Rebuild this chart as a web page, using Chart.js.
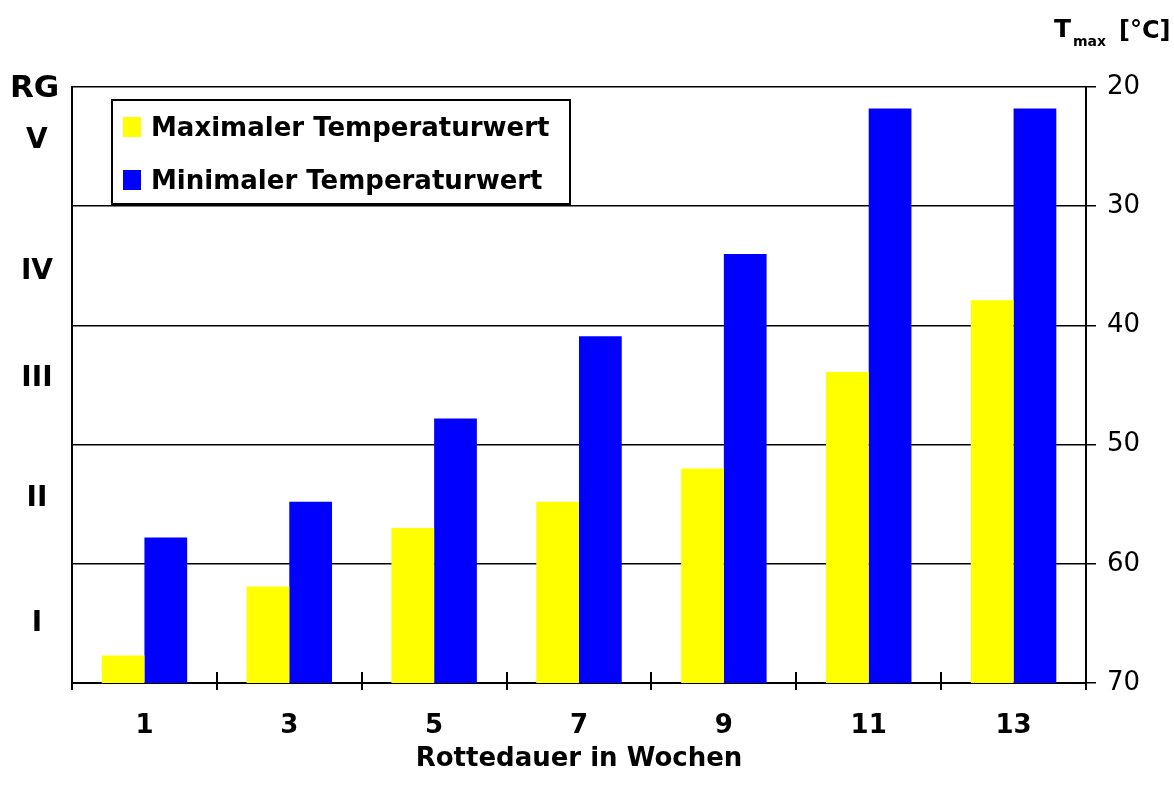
<!DOCTYPE html>
<html>
<head>
<meta charset="utf-8">
<script src="https://cdn.jsdelivr.net/npm/chart.js@4/dist/chart.umd.min.js"></script>
<style>
  html, body { margin: 0; padding: 0; background: #fff; }
  #wrap { width: 1174px; height: 785px; position: relative; }
</style>
</head>
<body>
<div id="wrap"><canvas id="c" width="1174" height="785"></canvas></div>
<script>
// Rotting duration (weeks) and temperature readings (°C)
const weeks = ['1', '3', '5', '7', '9', '11', '13'];
const maxTemp = [67.7, 61.9, 57.0, 54.8, 52.0, 43.9, 37.9];
const minTemp = [57.8, 54.8, 47.8, 40.9, 34.0, 21.8, 21.8];
const seriesNames = ['Maximaler Temperaturwert', 'Minimaler Temperaturwert'];
const seriesColors = ['#FFFF00', '#0000FF'];

// Temperature axis (reversed: cooler at the top)
const tempMin = 20;
const tempMax = 70;
const tempStep = 10;

// Rottegrad classes on the left axis and where they sit on the temperature scale
const rgLabels = ['I', 'II', 'III', 'IV', 'V'];
const rgPositions = [65, 54.5, 44.5, 35.5, 24.5];

const FONT = '"DejaVu Sans", Verdana, sans-serif';

const decorPlugin = {
  id: 'decor',
  afterDraw(chart) {
    const ctx = chart.ctx;
    const area = chart.chartArea;
    const n = weeks.length;

    // inner halves of the category tick marks on the x axis
    ctx.save();
    ctx.strokeStyle = '#000';
    ctx.lineWidth = 2;
    const step = (area.right - area.left) / n;
    for (let i = 1; i < n; i++) {
      const x = Math.round(area.left + i * step);
      ctx.beginPath();
      ctx.moveTo(x, area.bottom - 11);
      ctx.lineTo(x, area.bottom);
      ctx.stroke();
    }
    ctx.restore();

    // legend box
    ctx.save();
    ctx.fillStyle = '#fff';
    ctx.fillRect(112, 100, 458, 104);
    ctx.strokeStyle = '#000';
    ctx.lineWidth = 2;
    ctx.strokeRect(112, 100, 458, 104);
    const rows = [136, 189];
    chart.data.datasets.forEach((ds, i) => {
      const base = rows[i];
      ctx.fillStyle = ds.backgroundColor;
      ctx.fillRect(123, base - 19, 18, 20);
      ctx.fillStyle = '#000';
      ctx.font = 'bold 26px ' + FONT;
      ctx.textAlign = 'left';
      ctx.textBaseline = 'alphabetic';
      ctx.fillText(ds.label, 151, base);
    });
    ctx.restore();

    // axis captions
    ctx.save();
    ctx.fillStyle = '#000';
    ctx.textBaseline = 'alphabetic';
    ctx.textAlign = 'left';
    ctx.font = 'bold 31px ' + FONT;
    ctx.fillText('RG', 10, 97);
    ctx.font = 'bold 25px ' + FONT;
    ctx.fillText('T', 1054, 37);
    ctx.font = 'bold 14px ' + FONT;
    ctx.fillText('max', 1073, 46);
    ctx.font = 'bold 24px ' + FONT;
    ctx.fillText('[°C]', 1119, 38);
    ctx.restore();
  }
};

new Chart(document.getElementById('c'), {
  type: 'bar',
  data: {
    labels: weeks,
    datasets: [
      {
        label: seriesNames[0],
        data: maxTemp.map(v => [tempMax, v]),
        backgroundColor: seriesColors[0],
        yAxisID: 'y'
      },
      {
        label: seriesNames[1],
        data: minTemp.map(v => [tempMax, v]),
        backgroundColor: seriesColors[1],
        yAxisID: 'y'
      }
    ]
  },
  options: {
    responsive: false,
    animation: false,
    devicePixelRatio: 1,
    layout: { padding: { top: 87, left: 0, right: 0, bottom: 0 } },
    datasets: {
      bar: { barPercentage: 1.0, categoryPercentage: 0.59, borderWidth: 0 }
    },
    plugins: {
      legend: { display: false },
      tooltip: { enabled: false },
      title: { display: false }
    },
    scales: {
      x: {
        type: 'category',
        offset: true,
        grid: {
          offset: true,
          drawOnChartArea: false,
          drawTicks: true,
          tickLength: 7,
          color: '#000',
          lineWidth: 2
        },
        border: { display: true, color: '#000', width: 2 },
        ticks: {
          color: '#000',
          padding: 21,
          font: { family: FONT, size: 26, weight: 'bold' }
        },
        title: {
          display: true,
          text: 'Rottedauer in Wochen',
          color: '#000',
          font: { family: FONT, size: 26, weight: 'bold' },
          padding: { top: 0, bottom: 10 }
        },
        afterFit(scale) { scale.height = 102; }
      },
      y: {
        position: 'right',
        reverse: true,
        min: tempMin,
        max: tempMax,
        ticks: {
          stepSize: tempStep,
          color: '#000',
          padding: 11,
          font: { family: FONT, size: 26, weight: 'normal' }
        },
        grid: {
          color: '#000',
          lineWidth: 1.5,
          tickLength: 10,
          drawTicks: true
        },
        border: { display: true, color: '#000', width: 2 },
        afterFit(scale) { scale.width = 88; }
      },
      rg: {
        position: 'left',
        reverse: true,
        min: tempMin,
        max: tempMax,
        afterBuildTicks(scale) {
          scale.ticks = rgPositions.map(v => ({ value: v }));
        },
        ticks: {
          autoSkip: false,
          crossAlign: 'center',
          padding: 19,
          color: '#000',
          font: { family: FONT, size: 28, weight: 'bold' },
          callback: (value, index) => rgLabels[index]
        },
        grid: { display: false, drawTicks: false, tickLength: 0 },
        border: { display: true, color: '#000', width: 2 },
        afterFit(scale) { scale.width = 72; }
      }
    }
  },
  plugins: [decorPlugin]
});
</script>
</body>
</html>
